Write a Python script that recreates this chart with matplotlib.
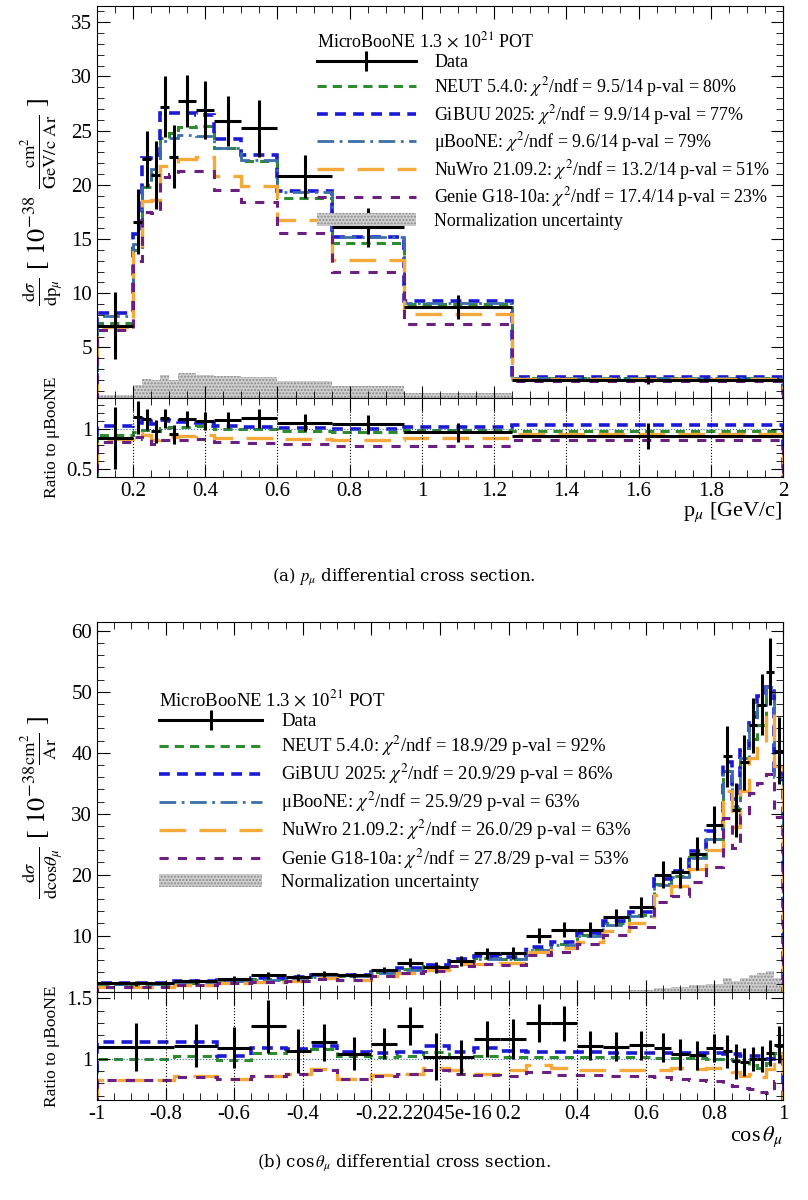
import numpy as np
from matplotlib import pyplot as plt
from matplotlib.patches import Patch
from matplotlib.lines import Line2D
from matplotlib.ticker import MultipleLocator, FormatStrFormatter

plt.rcParams['font.family'] = ['Liberation Serif', 'DejaVu Serif']
plt.rcParams['mathtext.fontset'] = 'stix'

# ---- p_mu ----
p_edges = [0.1, 0.2, 0.225, 0.25, 0.275, 0.3, 0.325, 0.375, 0.425, 0.5, 0.6, 0.75, 0.95, 1.25, 2.0]
p_data = [7.0, 16.6, 22.4, 20.9, 27.2, 22.6, 27.7, 26.9, 25.9, 25.2, 20.8, 16.1, 8.7, 2.0]
p_err = [3.1, 3.0, 2.6, 3.1, 2.8, 2.9, 2.4, 2.7, 2.3, 2.6, 2.0, 1.8, 1.1, 0.35]
p_gibuu = [8.2, 15.5, 22.5, 22.8, 26.6, 26.6, 26.6, 26.4, 24.2, 22.8, 19.4, 15.2, 9.3, 2.3]
p_neut = [7.3, 14.0, 19.8, 21.0, 24.3, 24.8, 25.3, 25.4, 23.4, 22.2, 18.8, 14.6, 9.0, 2.15]
p_uboone = [7.9, 14.5, 20.0, 21.5, 24.0, 24.3, 24.6, 24.5, 23.4, 22.3, 19.3, 15.2, 9.1, 2.2]
p_nuwro = [6.9, 13.8, 18.5, 18.6, 21.7, 21.8, 22.4, 22.6, 20.8, 19.9, 16.8, 13.1, 8.1, 2.05]
p_genie = [6.6, 13.0, 17.5, 17.4, 20.7, 21.0, 21.3, 21.3, 19.5, 18.4, 15.6, 12.0, 7.2, 1.9]
p_norm = [0.6, 1.5, 2.1, 2.0, 2.5, 2.0, 2.6, 2.5, 2.4, 2.3, 1.9, 1.4, 0.8, 0.2]
p_chi = ["9.5/14 p-val = 80%", "9.9/14 p-val = 77%", "9.6/14 p-val = 79%",
         "13.2/14 p-val = 51%", "17.4/14 p-val = 23%"]

# ---- cos theta ----
c_edges = [-1, -0.775, -0.65, -0.55, -0.45, -0.375, -0.3, -0.2, -0.125, -0.05, 0.025, 0.1, 0.175,
           0.25, 0.325, 0.4, 0.475, 0.55, 0.625, 0.675, 0.725, 0.775, 0.825, 0.85, 0.875, 0.9,
           0.925, 0.95, 0.975, 1.0]
c_data = [2.2, 2.5, 2.9, 3.5, 3.2, 3.7, 3.5, 4.4, 5.6, 4.8, 5.9, 7.1, 7.1, 10.0, 11.0, 11.0,
          13.0, 14.7, 20.0, 20.4, 23.4, 28.2, 39.4, 30.6, 38.4, 44.5, 47.9, 53.3, 40.3]
c_err = [0.4, 0.4, 0.45, 0.6, 0.55, 0.5, 0.45, 0.5, 0.7, 0.9, 0.8, 0.9, 1.0, 1.2, 1.2, 1.2,
         1.4, 1.6, 2.2, 2.5, 2.7, 3.0, 5.0, 4.5, 4.5, 4.5, 5.0, 5.5, 5.5]
c_uboone = [2.0, 2.25, 2.65, 2.75, 3.0, 3.25, 3.35, 3.9, 4.4, 4.7, 5.8, 6.1, 6.1, 7.7, 8.5, 9.9,
            11.8, 13.2, 18.3, 19.6, 22.7, 25.9, 37.0, 31.2, 39.2, 44.5, 47.9, 50.8, 36.0]
c_r_gibuu = [1.14, 1.14, 1.03, 1.09, 1.08, 1.11, 1.06, 1.05, 1.06, 1.11, 1.06, 1.09, 1.07, 1.06,
             1.06, 1.06, 1.05, 1.05, 1.05, 1.05, 1.05, 1.05, 1.04, 1.04, 1.03, 1.03, 1.03, 1.0, 1.02]
c_r_neut = [1.0, 1.03, 0.99, 1.05, 1.07, 1.08, 1.03, 1.02, 1.03, 1.06, 1.02, 1.03, 1.02, 1.02,
            1.02, 1.02, 1.02, 1.02, 1.01, 1.01, 1.01, 1.0, 1.0, 0.99, 0.98, 0.95, 0.93, 0.97, 1.05]
c_r_nuwro = [0.83, 0.86, 0.84, 0.86, 0.88, 0.92, 0.84, 0.87, 0.88, 0.93, 0.91, 0.88, 0.91, 0.95,
             0.93, 0.91, 0.91, 0.91, 0.91, 0.93, 0.92, 0.93, 0.91, 0.89, 0.86, 0.88, 0.85, 0.92, 1.05]
c_r_genie = [0.83, 0.85, 0.84, 0.86, 0.88, 0.91, 0.84, 0.86, 0.88, 0.91, 0.88, 0.87, 0.86, 0.89,
             0.87, 0.87, 0.86, 0.86, 0.85, 0.84, 0.83, 0.82, 0.79, 0.78, 0.76, 0.75, 0.73, 0.72, 0.82]
c_norm = [0.2, 0.2, 0.25, 0.25, 0.3, 0.3, 0.3, 0.35, 0.4, 0.4, 0.5, 0.55, 0.55, 0.7, 0.75, 0.9,
          1.0, 1.1, 1.5, 1.6, 1.9, 2.1, 3.0, 2.5, 3.1, 3.5, 3.8, 4.2, 3.1]
c_chi = ["18.9/29 p-val = 92%", "20.9/29 p-val = 86%", "25.9/29 p-val = 63%",
         "26.0/29 p-val = 63%", "27.8/29 p-val = 53%"]

names = ["NEUT 5.4.0", "GiBUU 2025", "\u03bcBooNE", "NuWro 21.09.2", "Genie G18-10a"]
styles = [dict(color='#2e8b2e', ls=(0, (3, 2)), lw=2.2),
          dict(color='#1a1ad6', ls=(0, (3, 2)), lw=2.6),
          dict(color='#3b6fa8', ls=(0, (6, 2, 1, 2)), lw=2.0),
          dict(color='#f5a93a', ls=(0, (8, 4)), lw=2.4),
          dict(color='#6b1f80', ls=(0, (3, 3)), lw=2.2)]


def style_ax(ax):
    ax.tick_params(which='both', direction='in', top=True, right=True, labelsize=15)
    ax.tick_params(which='major', length=9)
    ax.tick_params(which='minor', length=5)
    ax.xaxis.set_major_formatter(FormatStrFormatter('%g'))
    ax.yaxis.set_major_formatter(FormatStrFormatter('%g'))


def draw(fig, rect_main, rect_ratio, edges, data, err, models, norm, chi, ylab, xlab,
         xlim, ylim, rlim, leg_anchor, leg_fs):
    edges = np.array(edges)
    data = np.array(data)
    err = np.array(err)
    mid = 0.5 * (edges[1:] + edges[:-1])
    half = 0.5 * (edges[1:] - edges[:-1])
    ax = fig.add_axes(rect_main)
    axr = fig.add_axes(rect_ratio, sharex=ax)
    ax.stairs(norm, edges, baseline=0, fill=True, facecolor='#cfcfcf', edgecolor='#8a8a8a',
              hatch='.....', lw=0)
    for m, s in zip(models, styles):
        ax.stairs(m, edges, **s)
    ax.errorbar(mid, data, xerr=half, yerr=err, fmt='none', ecolor='black', elinewidth=2.2)
    ub = np.array(models[2])
    for m, s in zip(models, styles):
        if s['color'] == '#3b6fa8':
            axr.stairs(np.array(m) / ub, edges, color=s['color'], ls=':', lw=0.8)
        else:
            axr.stairs(np.array(m) / ub, edges, **s)
    axr.errorbar(mid, data / ub, xerr=half, yerr=err / ub, fmt='none', ecolor='black', elinewidth=2.2)
    ax.set_xlim(*xlim)
    ax.set_ylim(*ylim)
    axr.set_ylim(*rlim)
    axr.grid(axis='x', ls=':', color='black', lw=0.8)
    for a in (ax, axr):
        style_ax(a)
    plt.setp(ax.get_xticklabels(), visible=False)
    ax.set_ylabel(ylab, fontsize=19)
    axr.set_ylabel("Ratio to \u03bcBooNE", fontsize=12.5)
    axr.set_xlabel(xlab, fontsize=16, loc='right', labelpad=0)
    handles = [Line2D([], [], color='black', lw=2.2, marker='|', markersize=14, mew=2.2)]
    labels = ["Data"]
    for n, s, c in zip(names, styles, chi):
        handles.append(Line2D([], [], **s))
        labels.append(n + ": $\\chi^2$/ndf = " + c)
    handles.append(Patch(facecolor='#cfcfcf', edgecolor='#8a8a8a', hatch='.....', lw=0))
    labels.append("Normalization uncertainty")
    leg = ax.legend(handles, labels, loc='upper left', bbox_to_anchor=leg_anchor, frameon=False,
                    fontsize=leg_fs, handlelength=5.5, handletextpad=1.0,
                    title="MicroBooNE 1.3 $\\times$ 10$^{21}$ POT",
                    title_fontsize=leg_fs, labelspacing=0.2, borderaxespad=0)
    leg._legend_box.align = 'left'
    return ax, axr


fig = plt.figure(figsize=(8.08, 12), dpi=100)

p_models = [p_neut, p_gibuu, p_uboone, p_nuwro, p_genie]
ax1, ax1r = draw(fig, [0.12, 0.668, 0.849, 0.327], [0.12, 0.6025, 0.849, 0.0655],
                 p_edges, p_data, p_err, p_models, p_norm, p_chi,
                 r"$\frac{\mathrm{d}\sigma}{\mathrm{dp}_{\mu}}$ [ $10^{-38}\ \frac{\mathrm{cm}^2}{\mathrm{GeV/c\ Ar}}$ ]",
                 r"p$_{\mu}$ [GeV/c]", (0.1, 2.0), (0.3, 36.5), (0.4, 1.38), (0.31, 0.955), 13)
ax1.set_yticks([5, 10, 15, 20, 25, 30, 35])
ax1.yaxis.set_minor_locator(MultipleLocator(1))
ax1r.set_yticks([0.5, 1])
ax1r.yaxis.set_minor_locator(MultipleLocator(0.1))
ax1r.xaxis.set_major_locator(MultipleLocator(0.2))
ax1r.xaxis.set_minor_locator(MultipleLocator(0.05))

c_models = [list(np.array(c_r_neut) * c_uboone), list(np.array(c_r_gibuu) * c_uboone), c_uboone,
            list(np.array(c_r_nuwro) * c_uboone), list(np.array(c_r_genie) * c_uboone)]
ax2, ax2r = draw(fig, [0.12, 0.173, 0.849, 0.309], [0.12, 0.083, 0.849, 0.09],
                 c_edges, c_data, c_err, c_models, c_norm, c_chi,
                 r"$\frac{\mathrm{d}\sigma}{\mathrm{dcos}\theta_{\mu}}$ [ $10^{-38}\frac{\mathrm{cm}^2}{\mathrm{Ar}}$ ]",
                 r"cos$\,\theta_{\mu}$", (-1, 1), (0.7, 61.5), (0.66, 1.55), (0.08, 0.84), 13.5)
ax2.set_yticks([10, 20, 30, 40, 50, 60])
ax2.yaxis.set_minor_locator(MultipleLocator(2))
ax2r.set_yticks([1, 1.5])
ax2r.yaxis.set_minor_locator(MultipleLocator(0.1))
ax2r.xaxis.set_major_locator(MultipleLocator(0.2))
ax2r.xaxis.set_minor_locator(MultipleLocator(0.05))

fig.text(0.5, 1 - 577 / 1200, r"(a) $p_\mu$ differential cross section.", ha='center', va='center',
         fontsize=12, family='DejaVu Serif')
fig.text(0.5, 1 - 1163 / 1200, r"(b) cos$\,\theta_\mu$ differential cross section.", ha='center',
         va='center', fontsize=12, family='DejaVu Serif')

fig.savefig("out.png", dpi=100)
